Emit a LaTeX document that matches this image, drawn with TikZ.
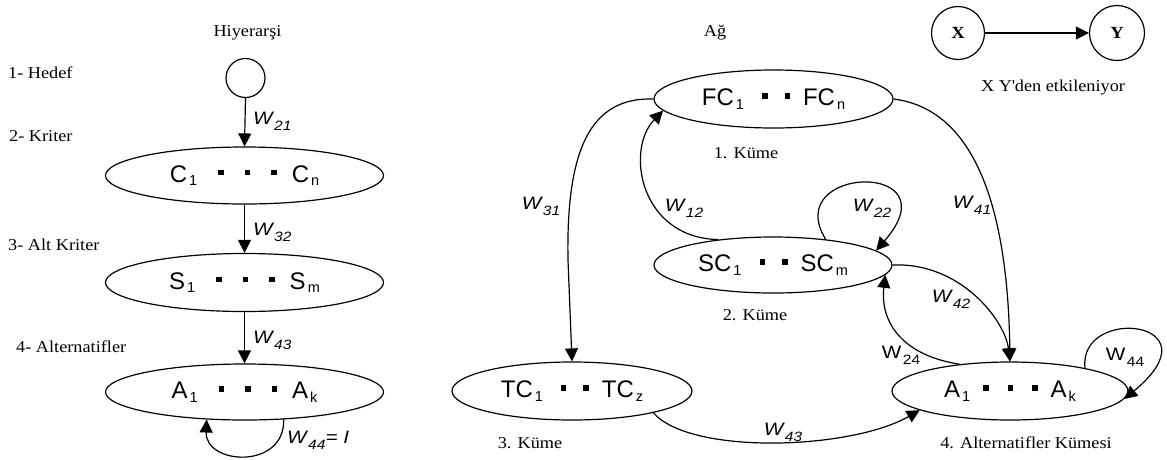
\documentclass[tikz,border=0pt]{standalone}
\usepackage{fontspec}
\setmainfont{Liberation Serif}
\newfontfamily\serifw[FakeStretch=1.1]{Liberation Serif}
\newfontfamily\arialf{Liberation Sans}
\newfontfamily\wfont[FakeStretch=1.15]{Liberation Sans}
\usetikzlibrary{shapes.geometric,arrows.meta}

\newcommand{\nsub}[1]{\raisebox{-3.5pt}{\fontsize{14.5}{14.5}\selectfont #1}}
\newcommand{\sq}{\rule[7pt]{5.5pt}{5.5pt}}
\newcommand{\wsub}[1]{\hspace{1.5pt}\raisebox{-6pt}{\fontsize{13.5}{13.5}\selectfont #1}}
\newcommand{\threetext}[3]{#1\hspace{2pt}\nsub{#2}\hspace{21pt}\sq\hspace{21pt}\sq\hspace{21pt}\sq\hspace{15pt}#1\hspace{2pt}\nsub{#3}}
\newcommand{\twotext}[3]{#1\hspace{2pt}\nsub{#2}\hspace{18pt}\sq\hspace{17pt}\sq\hspace{13pt}#1\hspace{2pt}\nsub{#3}}
\newcommand{\athree}{A\hspace{2pt}\nsub{1}\hspace{13pt}\sq\hspace{19pt}\sq\hspace{19pt}\sq\hspace{13pt}A\hspace{2pt}\nsub{k}}

\tikzset{
  lw/.style={line width=1.2pt},
  clus/.style={draw, lw, ellipse, inner sep=0pt, font=\arialf\fontsize{24}{24}\selectfont},
  circ/.style={draw, lw, circle, inner sep=0pt},
  arr/.style={lw, -{Triangle[length=13pt,width=13pt]}},
  serif/.style={font=\serifw\fontsize{16.6}{16.6}\selectfont, inner sep=0pt},
  wlab/.style={font=\wfont\fontsize{18}{18}\selectfont\itshape, inner sep=0pt},
  wlabu/.style={font=\wfont\fontsize{18}{18}\selectfont, inner sep=0pt},
}

\begin{document}
\begin{tikzpicture}[x=1pt,y=-1pt]
\useasboundingbox[fill=white] (0,0) rectangle (1167,459);

% ---------- Left: hierarchy ----------
\node[serif] (thier) at (247.5,33) {Hiyerarşi};
\node[serif, anchor=west] (l1) at (8,73) {1- Hedef};
\node[serif, anchor=west] (l2) at (9,136) {2- Kriter};
\node[serif, anchor=west] (l3) at (8,245) {3- Alt Kriter};
\node[serif, anchor=west] (l4) at (16,347) {4- Alternatifler};

\node[circ, minimum size=39pt] (goal) at (245.5,78) {};
\node[clus, minimum width=278pt, minimum height=57pt] (c) at (244.5,175.5) {\threetext{C}{1}{n}};
\node[clus, minimum width=278pt, minimum height=58pt] (s) at (244.5,282.5) {\threetext{S}{1}{m}};
\node[clus, minimum width=278pt, minimum height=56pt] (al) at (244.5,392) {\threetext{A}{1}{k}};

\draw[arr] (goal.south) -- (c.north);
\draw[arr] (c.south) -- (s.north);
\draw[arr] (s.south) -- (al.north);
\draw[arr] (al.325) .. controls (285,470) and (205,465) .. (al.216);

\node[wlab, anchor=west] (w21) at (253,121) {W\wsub{21}};
\node[wlab, anchor=west] (w32) at (253,232) {W\wsub{32}};
\node[wlab, anchor=west] (w43l) at (253,340) {W\wsub{43}};
\node[wlab, anchor=west] (w44l) at (287,440) {W\wsub{44}= I};

% ---------- Right: network ----------
\node[serif] (tag) at (715,33) {Ağ};
\node[circ, minimum size=53pt, font=\serifw\bfseries\fontsize{17}{17}\selectfont] (x) at (958,33) {X};
\node[circ, minimum size=55pt, font=\serifw\bfseries\fontsize{17}{17}\selectfont] (y) at (1117,33) {Y};
\draw[arr] (x.east) -- (y.west);
\node[serif] (xy) at (1053,88) {X Y\textquotesingle den etkileniyor};

\node[clus, minimum width=239pt, minimum height=58pt] (fc) at (773.5,99) {\twotext{FC}{1}{n}};
\node[clus, minimum width=238pt, minimum height=56pt] (sc) at (773,265) {\twotext{SC}{1}{m}};
\node[clus, minimum width=240pt, minimum height=58pt] (tc) at (572,391) {\twotext{TC}{1}{z}};
\node[clus, minimum width=236pt, minimum height=58pt] (ar) at (1010,391) {\athree};

\node[serif] (k1) at (746,153) {1. Küme};
\node[serif] (k2) at (755,315) {2. Küme};
\node[serif] (k3) at (530,443) {3. Küme};
\node[serif] (k4) at (1026,443) {4. Alternatifler Kümesi};

% W31
\draw[arr] (fc.west) .. controls (590,97) and (566,150) .. (568,260) -- (tc.north);
% W12
\draw[arr] (sc.155) .. controls (640,238) and (625,150) .. (fc.186);
% W22
\draw[arr] (sc.26) .. controls (780,165) and (955,160) .. (sc.8);
% W41
\draw[arr] (fc.east) .. controls (980,110) and (1008,220) .. (ar.north);
% W42
\draw[arr] (sc.east) .. controls (960,262) and (1005,320) .. (ar.north);
% W24
\draw[arr] (ar.152) .. controls (900,355) and (880,320) .. (sc.-5);
% W44
\draw[arr] (ar.17) .. controls (1078,305) and (1220,320) .. (ar.-4);
% W43
\draw[arr] (tc.-15) .. controls (690,455) and (850,450) .. (ar.192);

\node[wlab] (w31) at (541,206) {W\wsub{31}};
\node[wlab] (w12) at (684,208) {W\wsub{12}};
\node[wlab] (w22) at (872,208) {W\wsub{22}};
\node[wlab] (w41) at (972,205) {W\wsub{41}};
\node[wlab] (w42) at (951,299) {W\wsub{42}};
\node[wlabu] (w24) at (901,355) {W\wsub{24}};
\node[wlabu] (w44) at (1125,357) {W\wsub{44}};
\node[wlab] (w43) at (783,432) {W\wsub{43}};
\end{tikzpicture}
\end{document}
